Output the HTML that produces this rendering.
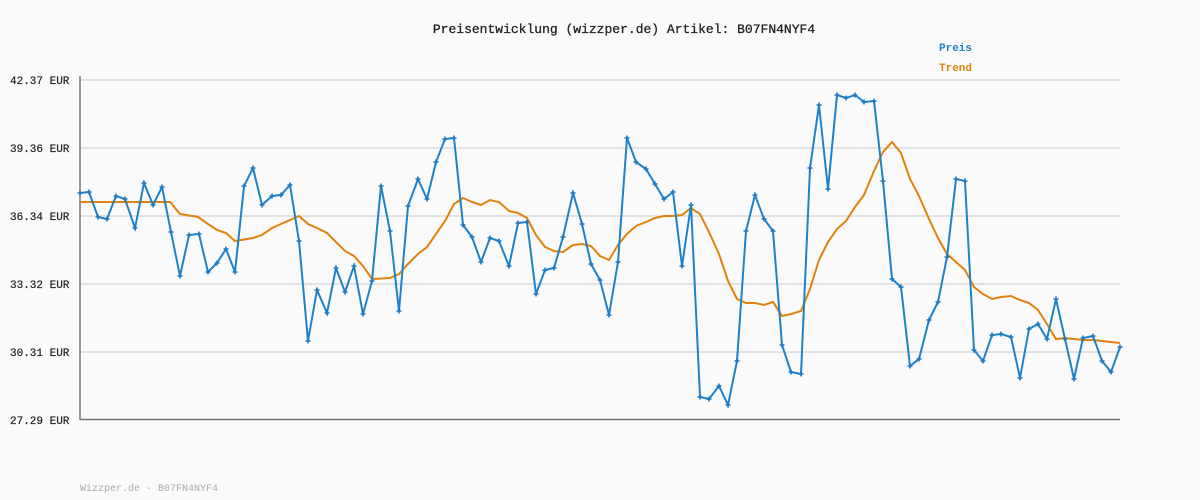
<!DOCTYPE html>
<html><head><meta charset="utf-8"><style>
html,body{margin:0;padding:0;background:#fafafa;}
svg{display:block;}
text{font-family:"Liberation Mono","DejaVu Sans Mono",monospace;}
</style></head><body>
<svg width="1200" height="500" viewBox="0 0 1200 500" xmlns="http://www.w3.org/2000/svg">
<defs>
<marker id="m" markerUnits="userSpaceOnUse" markerWidth="6" markerHeight="6" refX="3" refY="3" viewBox="0 0 6 6">
<path d="M3 0.5V5.5M0.5 3H5.5" stroke="#1f78c0" stroke-width="1.6"/>
</marker>
</defs>
<rect width="1200" height="500" fill="#fafafa"/>
<text x="624" y="33" text-anchor="middle" font-size="13" fill="#222" stroke="#222" stroke-width="0.3">Preisentwicklung (wizzper.de) Artikel: B07FN4NYF4</text>
<text x="939" y="51" font-size="11" font-weight="bold" fill="#1f82c8">Preis</text>
<text x="939" y="71" font-size="11" font-weight="bold" fill="#e0820e">Trend</text>
<g stroke="#e2e2e2" stroke-width="2">
<line x1="80" y1="80" x2="1120" y2="80"/><line x1="80" y1="148" x2="1120" y2="148"/>
<line x1="80" y1="216" x2="1120" y2="216"/><line x1="80" y1="284" x2="1120" y2="284"/>
<line x1="80" y1="352" x2="1120" y2="352"/>
</g>
<g font-size="11" fill="#222" stroke="#222" stroke-width="0.2">
<text x="10" y="84">42.37 EUR</text><text x="10" y="152">39.36 EUR</text>
<text x="10" y="220">36.34 EUR</text><text x="10" y="288">33.32 EUR</text>
<text x="10" y="356">30.31 EUR</text><text x="10" y="424">27.29 EUR</text>
</g>
<line x1="80" y1="76" x2="80" y2="420" stroke="#777" stroke-width="1.5"/>
<line x1="80" y1="419.5" x2="1120" y2="419.5" stroke="#777" stroke-width="1.5"/>
<polyline fill="none" stroke="#e0820e" stroke-width="2" points="80,202 170,202 180,214 198,217 208,224 217,230 226,233 235,241 253,238 262,235 272,228 281,224 299,216 308,224 317,228 327,233 336,242 345,251 354,256 363,266 372,279 390,278 399,274 408,264 418,254 427,247 436,234 445,221 454,204 463,198 472,202 481,205 490,200 499,202 509,211 518,213 527,218 536,235 545,247 554,251 563,252 573,245 582,244 591,246 600,256 609,260 618,245 627,234 636,226 646,222 655,218 664,216 673,216 682,215 691,208 700,214 709,232 719,254 728,281 737,299 746,303 755,303 764,305 773,302 782,316 791,314 801,311 810,289 819,260 828,242 837,229 846,221 855,207 864,195 874,171 883,152 892,142 901,153 910,179 919,196 929,219 938,238 947,254 956,262 965,270 974,287 983,294 992,299 1001,297 1011,296 1020,300 1029,303 1038,310 1047,324 1056,339 1065,338 1074,339 1083,340 1093,340 1102,341 1111,342 1120,343"/>
<polyline fill="none" stroke="#1f82c8" stroke-width="2" marker-start="url(#m)" marker-mid="url(#m)" marker-end="url(#m)" points="80,193 89,192 98,217 107,219 116,196 125,199 135,228 144,183 153,205 162,187 171,232 180,276 189,235 199,234 208,272 217,263 226,249 235,272 244,186 253,168 262,205 272,196 281,195 290,185 299,241 308,341 317,290 327,313 336,268 345,292 354,266 363,314 372,281 381,186 390,231 399,311 408,206 418,179 427,199 436,162 445,139 454,138 463,225 472,237 481,262 490,238 499,241 509,266 518,223 527,222 536,294 545,270 554,268 563,237 573,193 582,224 591,264 600,280 609,315 618,262 627,138 636,162 646,169 655,184 664,199 673,192 682,266 691,205 700,397 709,399 719,386 728,405 737,361 746,231 755,195 764,219 773,231 782,345 791,372 801,374 810,168 819,105 828,189 837,95 846,98 855,95 864,102 874,101 883,181 892,279 901,287 910,366 919,359 929,320 938,302 947,257 956,179 965,181 974,350 983,361 992,335 1001,334 1011,337 1020,378 1029,329 1038,324 1047,339 1056,299 1065,339 1074,379 1083,338 1093,336 1102,361 1111,372 1120,347"/>
<text x="80" y="491" font-size="10" fill="#aaa">Wizzper.de - B07FN4NYF4</text>
</svg>
</body></html>
